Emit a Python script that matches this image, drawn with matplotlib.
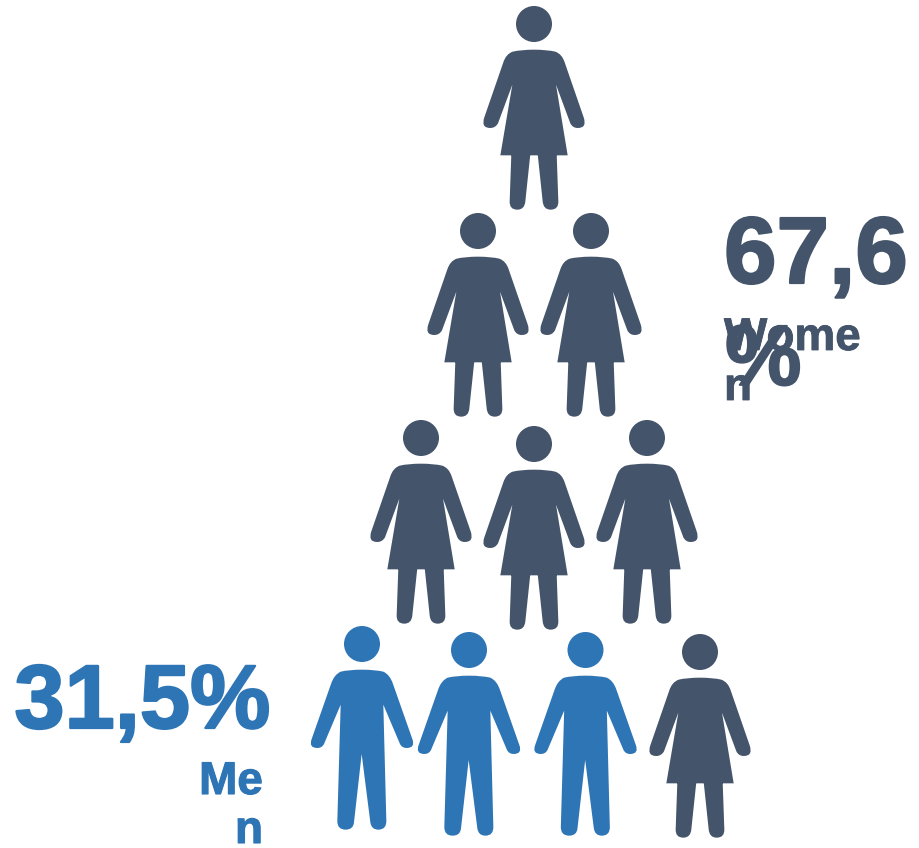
import matplotlib
matplotlib.use("Agg")
import numpy as np
import matplotlib.pyplot as plt
import matplotlib.patheffects as pe
from matplotlib.patches import PathPatch
from matplotlib.path import Path
from matplotlib.transforms import Affine2D

# Figures in the pyramid: sex, centre x and head top y, row by row
figure_sex = ["w", "w", "w", "w", "w", "w", "m", "m", "m", "w"]
figure_x = [534, 478, 591, 421, 534, 647, 362, 469, 585.5, 700]
figure_top = [6, 213, 213, 420, 426, 420, 626, 632, 632, 634]

# Shares shown next to the pyramid
women_share = "67,6"
men_share = "31,5%"

WOMEN_COLOR = "#44546A"
MEN_COLOR = "#2E75B6"

# Icon outlines, in thirds of a pixel around the body axis
WOMAN_BODY = [
    ("M", 0, 147), ("Q", -40, 147, -64, 153), ("Q", -84, 160, -92, 185),
    ("L", -149, 350), ("Q", -160, 382, -131, 382), ("Q", -116, 382, -108, 368),
    ("L", -65, 252), ("L", -101, 464), ("L", 101, 464), ("L", 66, 252),
    ("L", 109, 368), ("Q", 116, 382, 131, 382), ("Q", 160, 382, 149, 350),
    ("L", 92, 185), ("Q", 84, 160, 64, 153), ("Q", 40, 147, 0, 147), ("Z",),
]
WOMAN_LEG_L = [
    ("M", -68, 460), ("L", -73, 602), ("Q", -74, 627, -50, 627),
    ("Q", -28, 627, -26, 602), ("L", -11, 460), ("Z",),
]
WOMAN_LEG_R = [
    ("M", 11, 460), ("L", 26, 602), ("Q", 28, 627, 50, 627),
    ("Q", 74, 627, 73, 602), ("L", 68, 460), ("Z",),
]
MAN_BODY = [
    ("M", 0, 147), ("Q", -40, 147, -64, 153), ("Q", -84, 162, -93, 190),
    ("L", -151, 355), ("Q", -161, 382, -134, 382), ("Q", -120, 382, -114, 370),
    ("L", -64, 252), ("L", -74, 600), ("Q", -75, 627, -49, 627),
    ("Q", -26, 627, -24, 605), ("L", -1, 400), ("L", 25, 605),
    ("Q", 28, 627, 49, 627), ("Q", 74, 627, 73, 600), ("L", 64, 252),
    ("L", 114, 370), ("Q", 120, 382, 134, 382), ("Q", 161, 382, 151, 355),
    ("L", 93, 190), ("Q", 84, 162, 64, 153), ("Q", 40, 147, 0, 147), ("Z",),
]


def outline(cmds):
    verts, codes = [], []
    for c in cmds:
        if c[0] == "M":
            verts.append(c[1:]); codes.append(Path.MOVETO)
        elif c[0] == "L":
            verts.append(c[1:]); codes.append(Path.LINETO)
        elif c[0] == "Q":
            verts += [c[1:3], c[3:5]]; codes += [Path.CURVE3, Path.CURVE3]
        else:
            verts.append((0, 0)); codes.append(Path.CLOSEPOLY)
    return Path(np.array(verts, dtype=float), codes)


def icon(parts):
    head = Path.circle((0, 70), 54)
    return Path.make_compound_path(head, *[outline(p) for p in parts])


def label(x, y, s, size, color, heavy=1.2, **kw):
    # Liberation bold thickened with a thin outline of the same colour
    t = ax.text(x, y, s, fontsize=size, color=color, va="baseline",
                family="Liberation Sans", weight="bold", **kw)
    t.set_path_effects([pe.withStroke(linewidth=heavy, foreground=color)])


ICONS = {"w": icon([WOMAN_BODY, WOMAN_LEG_L, WOMAN_LEG_R]), "m": icon([MAN_BODY])}
COLORS = {"w": WOMEN_COLOR, "m": MEN_COLOR}

fig = plt.figure(figsize=(9.19, 8.48), dpi=100)
ax = fig.add_axes([0, 0, 1, 1])
ax.set_xlim(0, 919)
ax.set_ylim(848, 0)
ax.axis("off")

for sex, x, top in zip(figure_sex, figure_x, figure_top):
    place = Affine2D().translate(0, -16).scale(1 / 3).translate(x, top)
    ax.add_patch(PathPatch(ICONS[sex].transformed(place), facecolor=COLORS[sex],
                           edgecolor="none"))

# Women label, wrapped in a narrow box so the lines run into each other
label(724, 283, women_share, 68, WOMEN_COLOR, heavy=1.6)
label(725, 385, "%", 62, WOMEN_COLOR, heavy=1.2)
label(724, 350, "Wome", 33, WOMEN_COLOR, heavy=0.6)
label(724, 400, "n", 33, WOMEN_COLOR, heavy=0.6)

# Men label
label(270, 728, men_share, 65, MEN_COLOR, heavy=1.6, ha="right")
label(263, 794, "Me", 33, MEN_COLOR, heavy=0.8, ha="right")
label(263, 843, "n", 33, MEN_COLOR, heavy=0.8, ha="right")

fig.savefig("out.png", dpi=100)
